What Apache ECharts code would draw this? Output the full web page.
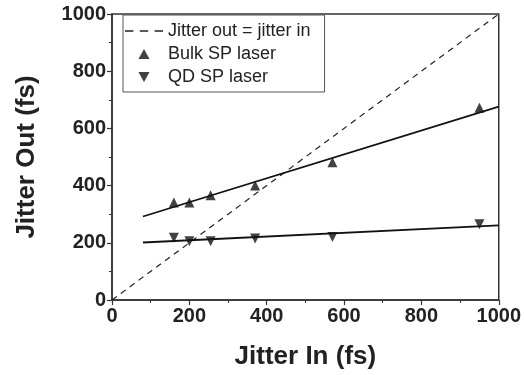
<!DOCTYPE html>
<html>
<head>
<meta charset="utf-8">
<script src="https://cdn.jsdelivr.net/npm/echarts@6/dist/echarts.min.js"></script>
<style>
  html, body { margin: 0; padding: 0; background: #fff; }
  #chart { width: 524px; height: 375px; }
</style>
</head>
<body>
<div id="chart"></div>
<script>
// 数据
const jitterIn = [160, 200, 255, 370, 570, 950];
const bulkOut = [341, 341, 366, 400, 482, 672];
const qdOut = [218, 205, 205, 215, 220, 265];
const bulkFit = [[80, 292], [1000, 676]];
const qdFit = [[80, 201], [1000, 261]];
const identityLine = [[0, 0], [1000, 1000]];

// 图例图标
const dashIcon = 'path://M0,0 h8 v1.4 h-8 z M14,0 h8 v1.4 h-8 z M28,0 h8 v1.4 h-8 z';
const upIcon = 'path://M5,0 L10,9 L0,9 Z';
const downIcon = 'path://M0,0 L10,0 L5,9 Z';

document.addEventListener('DOMContentLoaded', () => {
    const chart = echarts.init(document.getElementById('chart'));

    const axisCommon = {
        type: 'value',
        min: 0,
        max: 1000,
        interval: 200,
        nameLocation: 'middle',
        nameTextStyle: {
            fontFamily: 'Liberation Sans',
            fontWeight: 'bold',
            fontSize: 26,
            color: '#222'
        },
        axisLine: { lineStyle: { color: '#333', width: 1.5 } },
        axisTick: { length: 5, lineStyle: { color: '#333', width: 1.2 } },
        minorTick: { show: true, splitNumber: 2, length: 3, lineStyle: { color: '#333', width: 1 } },
        splitLine: { show: false },
        axisLabel: {
            fontFamily: 'Liberation Sans',
            fontWeight: 'bold',
            fontSize: 20,
            color: '#222',
            margin: 6,
            formatter: v => String(v)
        }
    };

    const option = {
        animation: false,
        grid: { left: 112, right: 25, top: 14, bottom: 74, show: true, borderColor: '#333', borderWidth: 1.5 },
        legend: {
            orient: 'vertical',
            left: 123,
            top: 15,
            padding: [7, 14, 6, 2],
            itemGap: 5,
            itemWidth: 38,
            itemHeight: 10,
            borderColor: '#555',
            borderWidth: 1,
            backgroundColor: '#fff',
            textStyle: { fontFamily: 'Liberation Sans', fontSize: 18, color: '#222' },
            data: [
                { name: 'Jitter out = jitter in', icon: dashIcon, itemStyle: { color: '#222' } },
                { name: 'Bulk SP laser', icon: upIcon, itemStyle: { color: '#111' } },
                { name: 'QD SP laser', icon: downIcon, itemStyle: { color: '#111' } }
            ]
        },
        xAxis: Object.assign({}, axisCommon, { name: 'Jitter In (fs)', nameGap: 44 }),
        yAxis: Object.assign({}, axisCommon, { name: 'Jitter Out (fs)', nameGap: 72 }),
        series: [
            {
                name: 'Jitter out = jitter in',
                type: 'line',
                data: identityLine,
                symbol: 'none',
                itemStyle: { color: '#222' },
                lineStyle: { color: '#222', width: 1.2, type: [6, 5] }
            },
            {
                name: 'Bulk SP laser',
                type: 'scatter',
                data: jitterIn.map((x, i) => [x, bulkOut[i]]),
                symbol: 'triangle',
                symbolSize: 10,
                itemStyle: { color: '#111' },
                z: 5
            },
            {
                name: 'QD SP laser',
                type: 'scatter',
                data: jitterIn.map((x, i) => [x, qdOut[i]]),
                symbol: 'triangle',
                symbolRotate: 180,
                symbolSize: 10,
                itemStyle: { color: '#111' },
                z: 5
            },
            {
                name: 'bulkFit',
                type: 'line',
                data: bulkFit,
                symbol: 'none',
                lineStyle: { color: '#111', width: 1.8 }
            },
            {
                name: 'qdFit',
                type: 'line',
                data: qdFit,
                symbol: 'none',
                lineStyle: { color: '#111', width: 1.8 }
            }
        ]
    };

    chart.setOption(option);
});
</script>
</body>
</html>
